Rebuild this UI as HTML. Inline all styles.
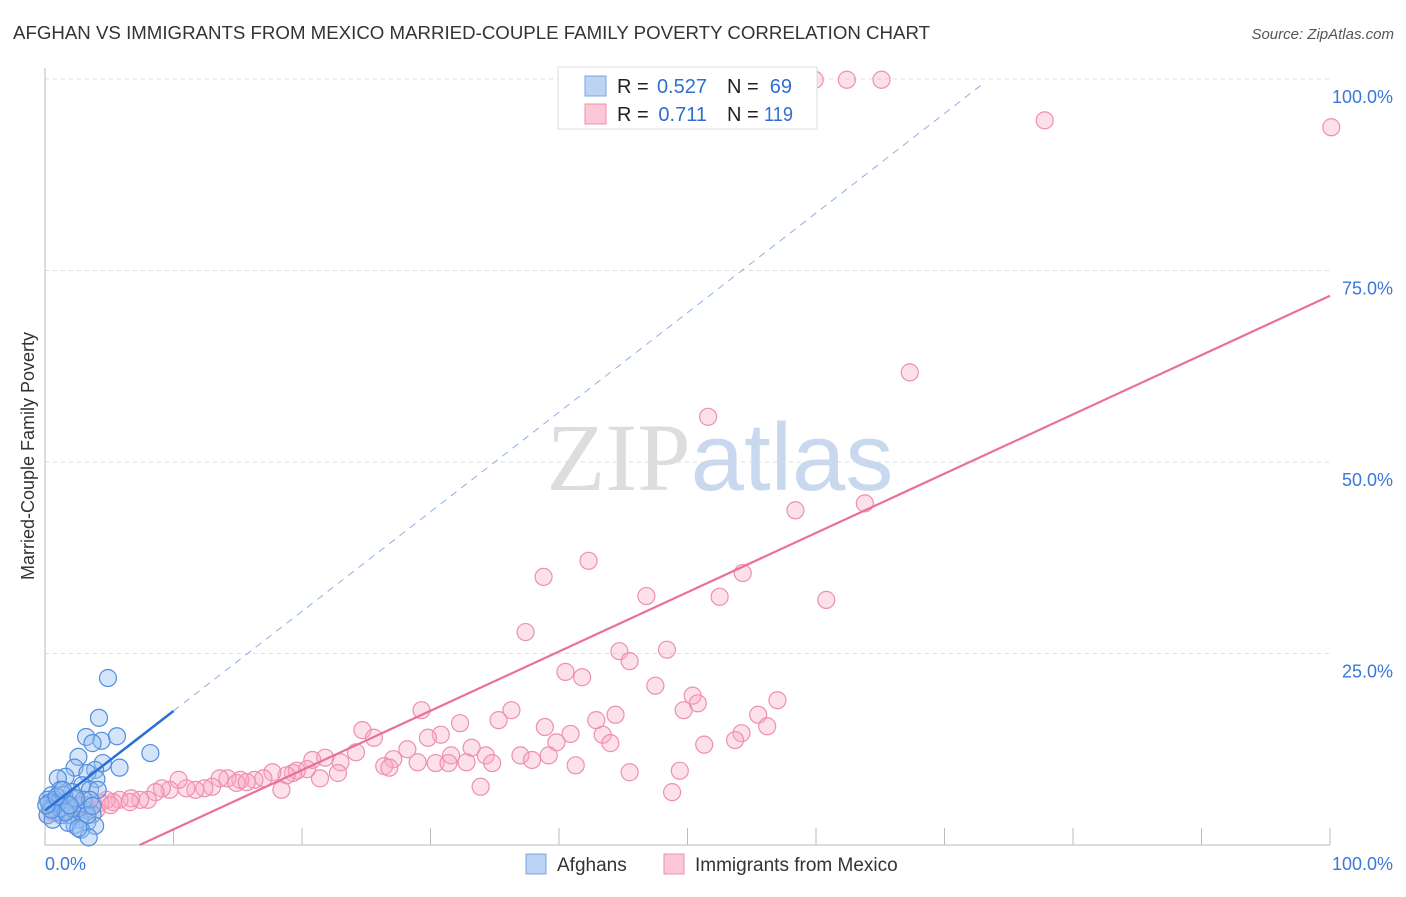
<!DOCTYPE html>
<html><head><meta charset="utf-8"><style>
body{margin:0;background:#fff;font-family:"Liberation Sans",sans-serif;}
svg text{font-family:"Liberation Sans",sans-serif;}
</style></head><body>
<svg id="chart" width="1406" height="892" xmlns="http://www.w3.org/2000/svg">
<text x="13" y="39" font-size="18" fill="#333" textLength="917" lengthAdjust="spacingAndGlyphs">AFGHAN VS IMMIGRANTS FROM MEXICO MARRIED-COUPLE FAMILY POVERTY CORRELATION CHART</text>
<text x="1394" y="39" font-size="15" fill="#555" text-anchor="end" font-style="italic">Source: ZipAtlas.com</text>
<text x="720" y="490" font-size="96" text-anchor="middle"><tspan fill="#ddd" font-family="Liberation Serif">ZIP</tspan><tspan fill="#c8d8ee">atlas</tspan></text>
<text transform="translate(34,456) rotate(-90)" font-size="18" fill="#333" text-anchor="middle">Married-Couple Family Poverty</text>
<g id="grid"></g><g id="marks"></g>
<g>
<rect x="558" y="67" width="259" height="62" fill="#fff" stroke="#ddd"/>
<rect x="585" y="76" width="21" height="20" fill="#bcd4f4" stroke="#7aa6e0"/>
<rect x="585" y="104" width="21" height="20" fill="#fac8d6" stroke="#ec90ac"/>
<text x="617" y="93" font-size="20" fill="#222">R =</text>
<text x="707" y="93" font-size="20" fill="#2f6fd0" text-anchor="end">0.527</text>
<text x="727" y="93" font-size="20" fill="#222">N =</text>
<text x="792" y="93" font-size="20" fill="#2f6fd0" text-anchor="end">69</text>
<text x="617" y="121" font-size="20" fill="#222">R =</text>
<text x="707" y="121" font-size="20" fill="#2f6fd0" text-anchor="end">0.711</text>
<text x="727" y="121" font-size="20" fill="#222">N =</text>
<text x="764" y="121" font-size="20" fill="#2f6fd0" textLength="29" lengthAdjust="spacingAndGlyphs">119</text>
</g>
<g>
<rect x="526" y="854" width="20" height="20" fill="#bcd4f4" stroke="#7aa6e0"/>
<text x="557" y="871" font-size="19" fill="#333">Afghans</text>
<rect x="664" y="854" width="20" height="20" fill="#fac8d6" stroke="#ec90ac"/>
<text x="695" y="871" font-size="19" fill="#333">Immigrants from Mexico</text>
</g>
</svg>
<script>
const yTicks=[25,50,75,100];
const yTickLabels=["25.0%","50.0%","75.0%","100.0%"];
const xTicks=[0,10,20,30,40,50,60,70,80,90,100];
const blueX=[4.9,4.2,5.6,3.2,4.4,3.7,8.2,2.6,5.8,4.5,3.9,2.3,3.3,1.6,1.0,4.0,2.9,3.5,2.1,4.1,1.2,0.5,0.8,0.2,1.6,2.6,3.1,3.7,1.3,1.9,2.7,3.3,2.3,3.9,1.8,0.9,0.4,0.2,0.6,1.2,2.1,3.0,1.5,3.5,2.4,1.0,0.3,1.6,3.3,2.8,3.4,2.6,1.9,0.5,0.1,0.9,1.4,3.7];
const blueY=[21.8,16.6,14.2,14.1,13.6,13.3,12.0,11.5,10.1,10.7,9.8,10.1,9.4,8.9,8.7,8.6,7.8,7.2,6.9,7.2,7.2,6.5,5.9,5.9,5.6,5.2,4.6,4.0,3.9,3.9,3.3,3.0,2.6,2.5,2.9,4.3,4.8,3.9,3.3,4.8,4.8,5.9,6.5,5.9,6.1,5.5,5.5,4.3,3.9,2.0,1.0,2.2,5.2,4.6,5.2,6.3,7.2,5.1];
const pinkX=[57.6,59.9,62.4,65.1,77.8,100.1,67.3,51.6,58.4,63.8,42.3,38.8,54.3,46.8,52.5,60.8,37.4,44.7,48.4,45.5,40.5,41.8,47.5,50.4,50.8,49.7,57.0,29.3,36.3,35.3,32.3,38.9,44.4,42.9,24.7,25.6,40.9,39.8,30.8,29.8,43.4,44.0,55.5,54.2,56.2,51.3,53.7,28.2,33.2,34.3,34.8,31.6,37.0,39.2,37.9,27.1,29.0,30.4,31.4,32.8,26.4,26.8,41.3,45.5,49.4,21.8,20.8,23.0,24.2,22.8,21.4,20.4,19.3,19.6,18.8,17.7,17.0,16.3,15.2,14.2,13.6,14.9,15.7,18.4,13.0,12.4,11.7,11.0,10.4,9.7,9.1,8.6,8.0,7.4,6.7,5.8,5.3,4.8,4.3,3.7,3.1,2.6,1.9,1.4,0.9,0.5,0.2,33.9,48.8,6.6,4.0,2.3,1.2,0.8,1.6,3.3,0.4,5.1,2.1];
const pinkY=[99.9,99.9,99.9,99.9,94.6,93.7,61.7,55.9,43.7,44.6,37.1,35.0,35.5,32.5,32.4,32.0,27.8,25.3,25.5,24.0,22.6,21.9,20.8,19.5,18.5,17.6,18.9,17.6,17.6,16.3,15.9,15.4,17.0,16.3,15.0,14.0,14.5,13.4,14.4,14.0,14.4,13.3,17.0,14.6,15.5,13.1,13.7,12.5,12.7,11.7,10.7,11.7,11.7,11.7,11.1,11.2,10.8,10.7,10.7,10.8,10.3,10.1,10.4,9.5,9.7,11.4,11.1,10.8,12.1,9.4,8.7,9.9,9.4,9.7,9.1,9.5,8.7,8.5,8.5,8.7,8.7,8.1,8.2,7.2,7.6,7.4,7.2,7.4,8.5,7.2,7.4,6.9,5.9,5.9,6.1,5.9,5.6,5.9,5.5,5.5,5.2,4.8,4.6,5.2,4.8,4.3,3.9,7.6,6.9,5.6,4.6,5.9,3.9,5.9,5.9,4.8,5.2,5.2,3.9];
const blueFit=[4.5,1.3], pinkFit=[-5.7,0.774];
const X=v=>45+v*12.85, Y=v=>845-v*7.66;
const NS="http://www.w3.org/2000/svg";
function mk(t,a,p){const e=document.createElementNS(NS,t);for(const k in a)e.setAttribute(k,a[k]);p.appendChild(e);return e;}
const g=document.getElementById('grid'), m=document.getElementById('marks');
yTicks.forEach((t,i)=>{
 const l=mk('line',{x1:45,x2:1330,y1:Y(t),y2:Y(t),stroke:'#ddd','stroke-dasharray':'4,4'},g);
 
 
 const tx=mk('text',{x:1393,y:Y(t)+24,'font-size':18,fill:'#3a78d8','text-anchor':'end'},g);
 tx.textContent=yTickLabels[i];
 
 
});
const ax=mk('path',{d:`M45 68V845H1330`,stroke:'#bbb',fill:'none'},g);


xTicks.forEach(t=>{const l=mk('line',{x1:X(t),x2:X(t),y1:845,y2:828,stroke:'#bbb'},g);
 
 });
const x0=mk('text',{x:45,y:870,'font-size':18,fill:'#3a78d8'},g);x0.textContent='0.0%';


const x1=mk('text',{x:1393,y:870,'font-size':18,fill:'#3a78d8','text-anchor':'end'},g);x1.textContent='100.0%';


pinkX.forEach((v,i)=>{const c=mk('circle',{cx:X(v),cy:Y(pinkY[i]),r:8.5,fill:'rgba(248,170,195,0.35)',stroke:'#ee8fae','stroke-width':1.2},m);
 
 });
blueX.forEach((v,i)=>{const c=mk('circle',{cx:X(v),cy:Y(blueY[i]),r:8.5,fill:'rgba(150,190,240,0.4)',stroke:'#4f8ee0','stroke-width':1.2},m);
 
 });
const bEnd=(99.6-blueFit[0])/blueFit[1];
const bd=mk('line',{x1:X(10),y1:Y(blueFit[0]+blueFit[1]*10),x2:X(bEnd),y2:Y(blueFit[0]+blueFit[1]*bEnd),stroke:'#8fb0e0','stroke-dasharray':'7,6'},m);


const bl=mk('line',{x1:X(0),y1:Y(blueFit[0]),x2:X(10),y2:Y(blueFit[0]+blueFit[1]*10),stroke:'#2a6fd6','stroke-width':2.5},m);


const px0=-pinkFit[0]/pinkFit[1];
const pl=mk('line',{x1:X(px0),y1:Y(0),x2:X(100),y2:Y(pinkFit[0]+pinkFit[1]*100),stroke:'#e8709a','stroke-width':2.2},m);


</script>
</body></html>
